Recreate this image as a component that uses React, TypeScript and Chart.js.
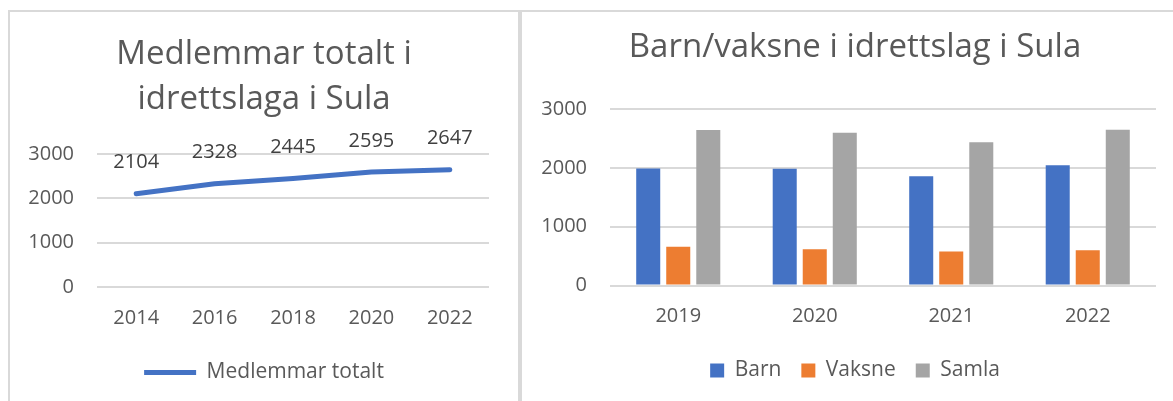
import React, { useEffect, useRef } from "react";
import { Chart, registerables } from "chart.js";

Chart.register(...registerables);

const FONT = "'Open Sans', sans-serif";
const TEXT = "#595959";
const GRID = "#d9d9d9";

const lineYears = ["2014", "2016", "2018", "2020", "2022"];
const lineTotals = [2104, 2328, 2445, 2595, 2647];

const barYears = ["2019", "2020", "2021", "2022"];
const barnValues = [1990, 1985, 1855, 2045];
const vaksneValues = [660, 615, 580, 600];
const samlaValues = [2645, 2595, 2435, 2647];

const yMin = 0;
const yMax = 3000;
const yStep = 1000;

const pointLabelPlugin = {
  id: "pointLabels",
  afterDatasetsDraw(chart: any) {
    const ctx = chart.ctx;
    const meta = chart.getDatasetMeta(0);
    const data = chart.data.datasets[0].data;
    ctx.save();
    ctx.font = `20px ${FONT}`;
    ctx.fillStyle = "#404040";
    ctx.textAlign = "center";
    ctx.textBaseline = "middle";
    meta.data.forEach((pt: any, i: number) => {
      ctx.fillText(String(data[i]), pt.x, pt.y - 31);
    });
    ctx.restore();
  },
};

function yAxis(width: number) {
  return {
    type: "linear",
    min: yMin,
    max: yMax,
    ticks: {
      stepSize: yStep,
      padding: 23,
      color: TEXT,
      font: { size: 20, family: FONT },
      callback: (v: any) => String(v),
    },
    grid: { color: GRID, lineWidth: 2, drawTicks: false },
    border: { display: false },
    afterFit: (s: any) => {
      s.width = width;
    },
  };
}

function rightSpacer(width: number) {
  return {
    type: "linear",
    position: "right",
    display: true,
    grid: { display: false, drawTicks: false },
    border: { display: false },
    ticks: { display: false },
    afterFit: (s: any) => {
      s.width = width;
    },
  };
}

function xAxis(height: number) {
  return {
    offset: true,
    grid: { display: false, drawTicks: false },
    border: { display: false },
    ticks: { padding: 19, color: TEXT, font: { size: 20, family: FONT } },
    afterFit: (s: any) => {
      s.height = height;
    },
  };
}

function LineChart() {
  const ref = useRef<HTMLCanvasElement | null>(null);
  useEffect(() => {
    if (!ref.current) return;
    const chart = new Chart(ref.current, {
      type: "line",
      data: {
        labels: lineYears,
        datasets: [
          {
            label: "Medlemmar totalt",
            data: lineTotals,
            borderColor: "#4472C4",
            backgroundColor: "#4472C4",
            borderWidth: 5,
            borderCapStyle: "round",
            borderJoinStyle: "round",
            pointRadius: 0,
            pointHoverRadius: 0,
            pointStyle: "line",
            tension: 0,
            yAxisID: "y",
          },
        ],
      },
      options: {
        animation: false,
        responsive: false,
        devicePixelRatio: 1,
        layout: { padding: 0 },
        plugins: {
          title: {
            display: true,
            text: ["Medlemmar totalt i", "idrettslaga i Sula"],
            color: TEXT,
            font: { size: 33, family: FONT, weight: "normal", lineHeight: 1.3636 },
            padding: { top: 20.5, bottom: 31.5 },
          },
          legend: {
            position: "bottom",
            labels: {
              usePointStyle: true,
              pointStyle: "line",
              pointStyleWidth: 52,
              color: TEXT,
              font: { size: 21, family: FONT },
              padding: 10,
            },
          },
          tooltip: { enabled: false },
        },
        scales: {
          x: xAxis(65),
          y: yAxis(87),
          yR: rightSpacer(29),
        },
      } as any,
      plugins: [pointLabelPlugin],
    });
    return () => chart.destroy();
  }, []);
  return <canvas ref={ref} width={508} height={381} style={{ display: "block", width: 508, height: 381 }} />;
}

function BarChart() {
  const ref = useRef<HTMLCanvasElement | null>(null);
  useEffect(() => {
    if (!ref.current) return;
    const chart = new Chart(ref.current, {
      type: "bar",
      data: {
        labels: barYears,
        datasets: [
          { label: "Barn", data: barnValues, backgroundColor: "#4472C4", yAxisID: "y" },
          { label: "Vaksne", data: vaksneValues, backgroundColor: "#ED7D31", yAxisID: "y" },
          { label: "Samla", data: samlaValues, backgroundColor: "#A5A5A5", yAxisID: "y" },
        ],
      },
      options: {
        animation: false,
        responsive: false,
        devicePixelRatio: 1,
        layout: { padding: 0 },
        datasets: { bar: { categoryPercentage: 0.66, barPercentage: 0.8 } },
        plugins: {
          title: {
            display: true,
            text: "Barn/vaksne i idrettslag i Sula",
            color: TEXT,
            font: { size: 33, family: FONT, weight: "normal", lineHeight: 1.3636 },
            padding: { top: 13, bottom: 39 },
          },
          legend: {
            position: "bottom",
            labels: {
              boxWidth: 14,
              boxHeight: 14,
              color: TEXT,
              font: { size: 21, family: FONT },
              padding: 20,
            },
          },
          tooltip: { enabled: false },
        },
        scales: {
          x: xAxis(54.5),
          y: yAxis(88),
          yR: rightSpacer(32),
        },
      } as any,
    });
    return () => chart.destroy();
  }, []);
  return <canvas ref={ref} width={666} height={379} style={{ display: "block", width: 666, height: 379 }} />;
}

export default function App() {
  const border = `2px solid ${GRID}`;
  return (
    <>
      <style>{`body{overflow:hidden;}`}</style>
      <div
        style={{
          position: "absolute",
          left: 8,
          top: 10,
          width: 508,
          height: 389,
          borderLeft: border,
          borderTop: border,
          borderRight: border,
          overflow: "hidden",
          background: "#fff",
        }}
      >
        <LineChart />
      </div>
      <div
        style={{
          position: "absolute",
          left: 520,
          top: 10,
          width: 651,
          height: 389,
          borderLeft: border,
          borderTop: border,
          overflow: "hidden",
          background: "#fff",
        }}
      >
        <BarChart />
      </div>
    </>
  );
}
